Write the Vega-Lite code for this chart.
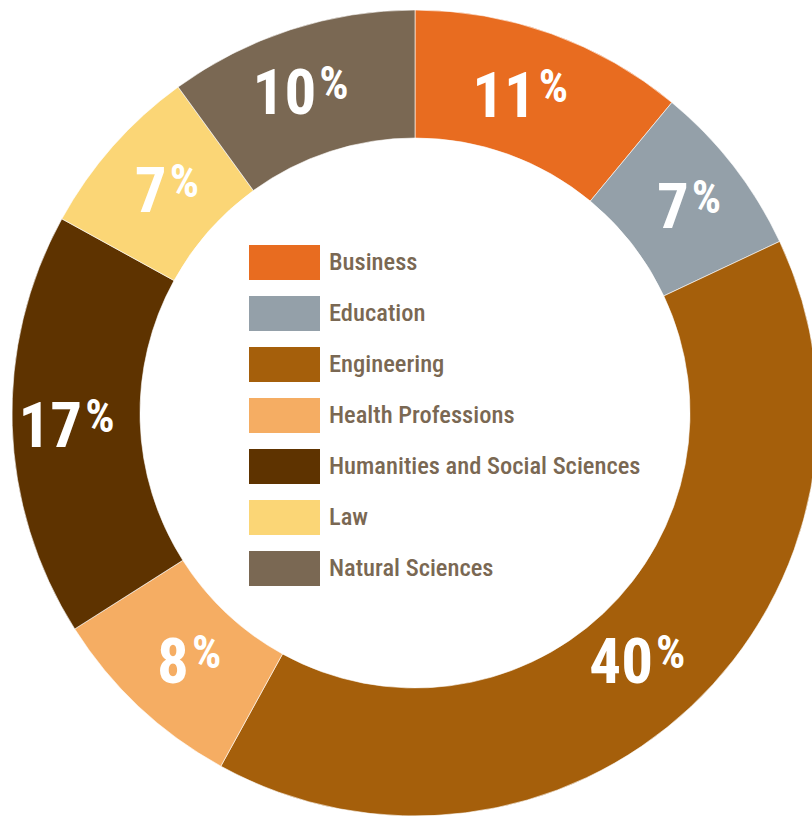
{
  "$schema": "https://vega.github.io/schema/vega-lite/v6.json",
  "autosize": {"type": "none"},
  "width": 794,
  "height": 808,
  "padding": {"left": 18, "top": 9, "right": 0, "bottom": 0},
  "background": "white",
  "config": {"view": {"stroke": null}},
  "data": {
    "values": [
      {"category": "Business", "pct": 11},
      {"category": "Education", "pct": 7},
      {"category": "Engineering", "pct": 40},
      {"category": "Health Professions", "pct": 8},
      {"category": "Humanities and Social Sciences", "pct": 17},
      {"category": "Law", "pct": 7},
      {"category": "Natural Sciences", "pct": 10}
    ]
  },
  "encoding": {
    "theta": {"field": "pct", "type": "quantitative", "stack": true},
    "order": {"field": "category", "sort": "ascending"}
  },
  "layer": [
    {
      "mark": {"type": "arc", "outerRadius": 403, "innerRadius": 275, "stroke": "white", "strokeWidth": 0.6},
      "encoding": {
        "color": {
          "field": "category",
          "type": "nominal",
          "scale": {
            "domain": ["Business", "Education", "Engineering", "Health Professions", "Humanities and Social Sciences", "Law", "Natural Sciences"],
            "range": ["#E86C20", "#94A0A9", "#A55F0B", "#F5AD63", "#5E3300", "#FBD676", "#7A6853"]
          },
          "legend": {
            "title": null,
            "orient": "none",
            "legendX": 231,
            "legendY": 236,
            "padding": 0,
            "symbolType": "M-1,-0.5H1V0.5H-1Z",
            "symbolSize": 5041,
            "symbolStrokeWidth": 0,
            "symbolOpacity": 1,
            "clipHeight": 35,
            "rowPadding": 16,
            "labelOffset": 9,
            "labelFont": "Roboto Condensed, DejaVu Sans Condensed, sans-serif",
            "labelFontSize": 24.5,
            "labelFontWeight": 500,
            "labelColor": "#7A6853",
            "labelLimit": 500
          }
        }
      }
    },
    {
      "mark": {"type": "text", "radius": 339, "align": "right", "baseline": "middle", "dx": 6, "dy": 4, "fontSize": 63, "fontWeight": "bold", "font": "Roboto Condensed, DejaVu Sans Condensed, sans-serif", "fill": "white"},
      "encoding": {
        "text": {"field": "pct", "type": "quantitative"},
        "detail": {"field": "category", "type": "nominal"}
      }
    },
    {
      "mark": {"type": "text", "radius": 339, "align": "left", "baseline": "middle", "dx": 9, "dy": -6, "fontSize": 46, "fontWeight": "bold", "font": "Roboto Condensed, DejaVu Sans Condensed, sans-serif", "fill": "white"},
      "encoding": {
        "text": {"value": "%"},
        "detail": {"field": "category", "type": "nominal"}
      }
    }
  ]
}
